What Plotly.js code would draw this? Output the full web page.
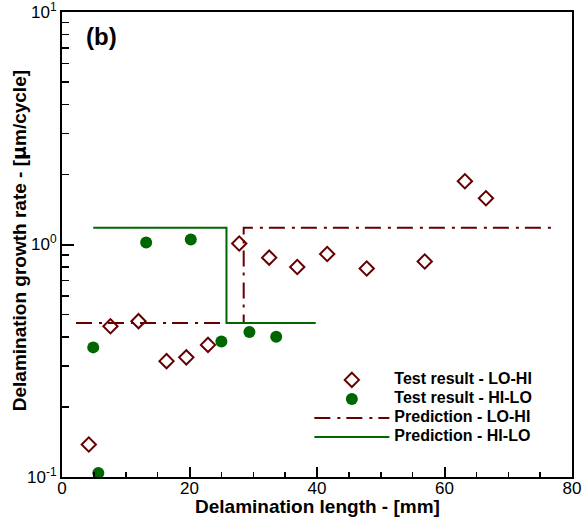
<!DOCTYPE html>
<html><head><meta charset="utf-8">
<script src="https://cdn.plot.ly/plotly-3.0.1.min.js"></script>
<style>html,body{margin:0;padding:0;background:#fff}#chart{width:583px;height:522px}</style>
</head><body><div id="chart"></div>
<script>
// Test result LO-HI (open diamonds)
const loHiX = [4.2, 7.6, 12.0, 16.4, 19.5, 22.9, 27.8, 32.5, 36.9, 41.6, 47.8, 56.9, 63.2, 66.5];
const loHiY = [0.138, 0.445, 0.468, 0.315, 0.327, 0.370, 1.01, 0.878, 0.800, 0.910, 0.788, 0.845, 1.87, 1.58];
// Test result HI-LO (filled circles)
const hiLoX = [4.9, 5.7, 13.2, 20.2, 25.0, 29.4, 33.6];
const hiLoY = [0.361, 0.104, 1.02, 1.05, 0.383, 0.420, 0.401];
// Prediction LO-HI (dash-dot step)
const predLoHiX = [2.2, 28.5, 28.5, 77.0];
const predLoHiY = [0.46, 0.46, 1.18, 1.18];
// Prediction HI-LO (solid step)
const predHiLoX = [4.9, 25.8, 25.8, 39.8];
const predHiLoY = [1.18, 1.18, 0.46, 0.46];
// tick labels
const yTickVals = [0.1, 1, 10];
const yTickText = ['10<sup>-1</sup>', '10<sup>0</sup>', '10<sup>1</sup>'];
const names = ['Test result - LO-HI', 'Test result - HI-LO', 'Prediction - LO-HI', 'Prediction - HI-LO'];
const xTitle = 'Delamination length - [mm]';
const yTitle = 'Delamination growth rate - [<span style="font-family:\'DejaVu Sans\'">\u00b5</span>m/cycle]';

const RED = '#660000', GREEN = '#006600';
const FONT = 'Arial, "Liberation Sans", sans-serif';
const nm = s => '<span style="font-size:16px">' + s + '</span>';

const traces = [
  {x: predLoHiX, y: predLoHiY, mode: 'lines', name: nm(names[2]), legendrank: 3,
   line: {color: RED, width: 2, dash: '16px,7px,3px,6px'}},
  {x: predHiLoX, y: predHiLoY, mode: 'lines', name: nm(names[3]), legendrank: 4,
   line: {color: GREEN, width: 2}},
  {x: loHiX, y: loHiY, mode: 'markers', name: nm(names[0]), legendrank: 1,
   marker: {symbol: 'diamond-open', size: 11, color: RED, line: {width: 2, color: RED}}},
  {x: hiLoX, y: hiLoY, mode: 'markers', name: nm(names[1]), legendrank: 2,
   marker: {symbol: 'circle', size: 12, color: GREEN, line: {width: 0}}}
];

const layout = {
  width: 583, height: 522,
  margin: {l: 62, r: 11, t: 12, b: 45, pad: 0},
  paper_bgcolor: '#fff', plot_bgcolor: '#fff',
  font: {family: FONT, color: '#000', size: 17},
  showlegend: true,
  legend: {x: 0.485, y: 0.24, xanchor: 'left', yanchor: 'top', bgcolor: 'rgba(0,0,0,0)',
    font: {family: FONT, size: 11, weight: 'bold', color: '#000'}, itemwidth: 75, tracegroupgap: 0},
  xaxis: {
    range: [0, 80], dtick: 20, tick0: 0, showgrid: false, zeroline: false,
    showline: true, mirror: true, linewidth: 2, linecolor: '#000',
    ticks: 'inside', ticklen: 10, tickwidth: 2, tickcolor: '#000',
    minor: {dtick: 5, ticks: 'inside', ticklen: 5, tickwidth: 1.5, tickcolor: '#000', showgrid: false},
    tickfont: {size: 17, family: FONT}, automargin: false, ticklabelstandoff: -5, ticklabeloverflow: 'allow'
  },
  yaxis: {
    type: 'log', range: [-1, 1], tickmode: 'array', tickvals: yTickVals, ticktext: yTickText,
    showgrid: false, zeroline: false,
    showline: true, mirror: true, linewidth: 2, linecolor: '#000',
    ticks: 'inside', ticklen: 12, tickwidth: 2, tickcolor: '#000',
    minor: {dtick: 'D1', ticks: 'inside', ticklen: 7, tickwidth: 1.5, tickcolor: '#000', showgrid: false},
    tickfont: {size: 17, family: FONT}, automargin: false, ticklabeloverflow: 'allow'
  },
  annotations: [
    {text: '<b>(b)</b>', xref: 'paper', yref: 'paper', x: 0.077, y: 0.948, xanchor: 'center', yanchor: 'middle',
     showarrow: false, font: {size: 24, family: FONT, color: '#000'}},
    {text: xTitle, xref: 'paper', yref: 'paper', x: 0.5, y: 0, xanchor: 'center', yanchor: 'middle', yshift: -29,
     showarrow: false, font: {size: 19, family: FONT, weight: 'bold', color: '#000'}},
    {text: yTitle, xref: 'paper', yref: 'paper', x: 0, y: 0.507, xanchor: 'center', yanchor: 'middle', xshift: -43,
     textangle: -90, showarrow: false, font: {size: 19, family: FONT, weight: 'bold', color: '#000'}}
  ]
};

Plotly.newPlot('chart', traces, layout, {displayModeBar: false, staticPlot: true});
</script>
</body></html>
